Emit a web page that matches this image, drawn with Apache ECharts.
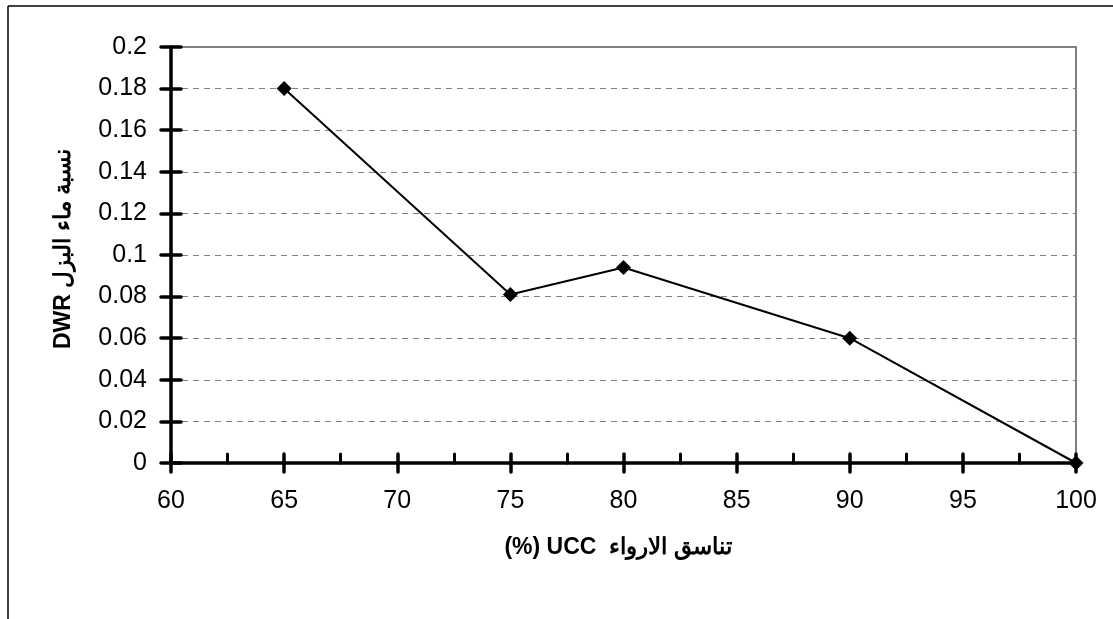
<!DOCTYPE html>
<html>
<head>
<meta charset="utf-8">
<script src="https://cdn.jsdelivr.net/npm/echarts@6/dist/echarts.min.js"></script>
<style>
html,body{margin:0;padding:0;background:#fff;}
#chart{width:1113px;height:619px;}
</style>
</head>
<body>
<div id="chart"></div>
<script>
var uccValues = [65, 75, 80, 90, 100];
var dwrValues = [0.18, 0.081, 0.094, 0.06, 0];
var xTitle = '(%) UCC  تناسق الارواء';
var yTitle = 'DWR نسبة ماء البزل';

var chart = echarts.init(document.getElementById('chart'));
var font = 'Liberation Sans';
var pts = uccValues.map(function (x, i) { return [x, dwrValues[i]]; });

var baseX = {
  type: 'value', min: 60, max: 100, interval: 5, gridIndex: 0
};
var baseY = {
  type: 'value', min: 0, max: 0.2, interval: 0.02, gridIndex: 0
};

chart.setOption({
  animation: false,
  backgroundColor: '#ffffff',
  textStyle: { fontFamily: font },
  grid: {
    left: 171, right: 37, top: 47, bottom: 156,
    show: true, borderColor: '#808080', borderWidth: 2, backgroundColor: '#ffffff'
  },
  xAxis: [
    Object.assign({}, baseX, {
      position: 'bottom',
      axisLine: { show: true, onZero: false, lineStyle: { color: '#000', width: 3.5 } },
      axisTick: { show: true, inside: false, length: 9, lineStyle: { color: '#000', width: 3.5, cap: 'round' } },
      minorTick: { show: false },
      axisLabel: { color: '#000', fontSize: 25, fontFamily: font, margin: 26 },
      splitLine: { show: false }
    }),
    Object.assign({}, baseX, {
      position: 'bottom',
      axisLine: { show: false },
      axisTick: { show: true, inside: true, length: 9, lineStyle: { color: '#000', width: 3.5, cap: 'round' } },
      minorTick: { show: true, splitNumber: 2, length: 9, lineStyle: { color: '#000', width: 3, cap: 'round' } },
      axisLabel: { show: false },
      splitLine: { show: false }
    })
  ],
  yAxis: [
    Object.assign({}, baseY, {
      position: 'left',
      axisLine: { show: true, onZero: false, lineStyle: { color: '#000', width: 3.5 } },
      axisTick: { show: true, inside: false, length: 10, lineStyle: { color: '#000', width: 3.5, cap: 'round' } },
      axisLabel: {
        color: '#000', fontSize: 25, fontFamily: font, margin: 24,
        formatter: function (v) { return String(parseFloat(v.toFixed(2))); }
      },
      splitLine: { show: true, lineStyle: { color: '#808080', width: 1, type: [6, 5] } }
    }),
    Object.assign({}, baseY, {
      position: 'left',
      axisLine: { show: false },
      axisTick: { show: true, inside: true, length: 10, lineStyle: { color: '#000', width: 3.5, cap: 'round' } },
      axisLabel: { show: false },
      splitLine: { show: false }
    })
  ],
  series: [{
    type: 'line',
    xAxisIndex: 0, yAxisIndex: 0,
    data: pts,
    symbol: 'diamond',
    symbolSize: 15,
    lineStyle: { color: '#000', width: 2 },
    itemStyle: { color: '#000' },
    z: 10
  }],
  graphic: [
    { type: 'line', shape: { x1: 8, y1: 6, x2: 1113, y2: 6 }, style: { stroke: '#000', lineWidth: 1.5 }, silent: true },
    { type: 'line', shape: { x1: 8, y1: 6, x2: 8, y2: 619 }, style: { stroke: '#000', lineWidth: 1.5 }, silent: true },
    {
      type: 'text', x: 618, y: 548,
      style: { text: xTitle, fontSize: 23, fontWeight: 'bold', fontFamily: font, fill: '#000', align: 'center', verticalAlign: 'middle' }
    },
    {
      type: 'text', x: 64, y: 249, rotation: Math.PI / 2,
      style: { text: yTitle, fontSize: 23, fontWeight: 'bold', fontFamily: font, fill: '#000', align: 'center', verticalAlign: 'middle' }
    }
  ]
});
</script>
</body>
</html>
